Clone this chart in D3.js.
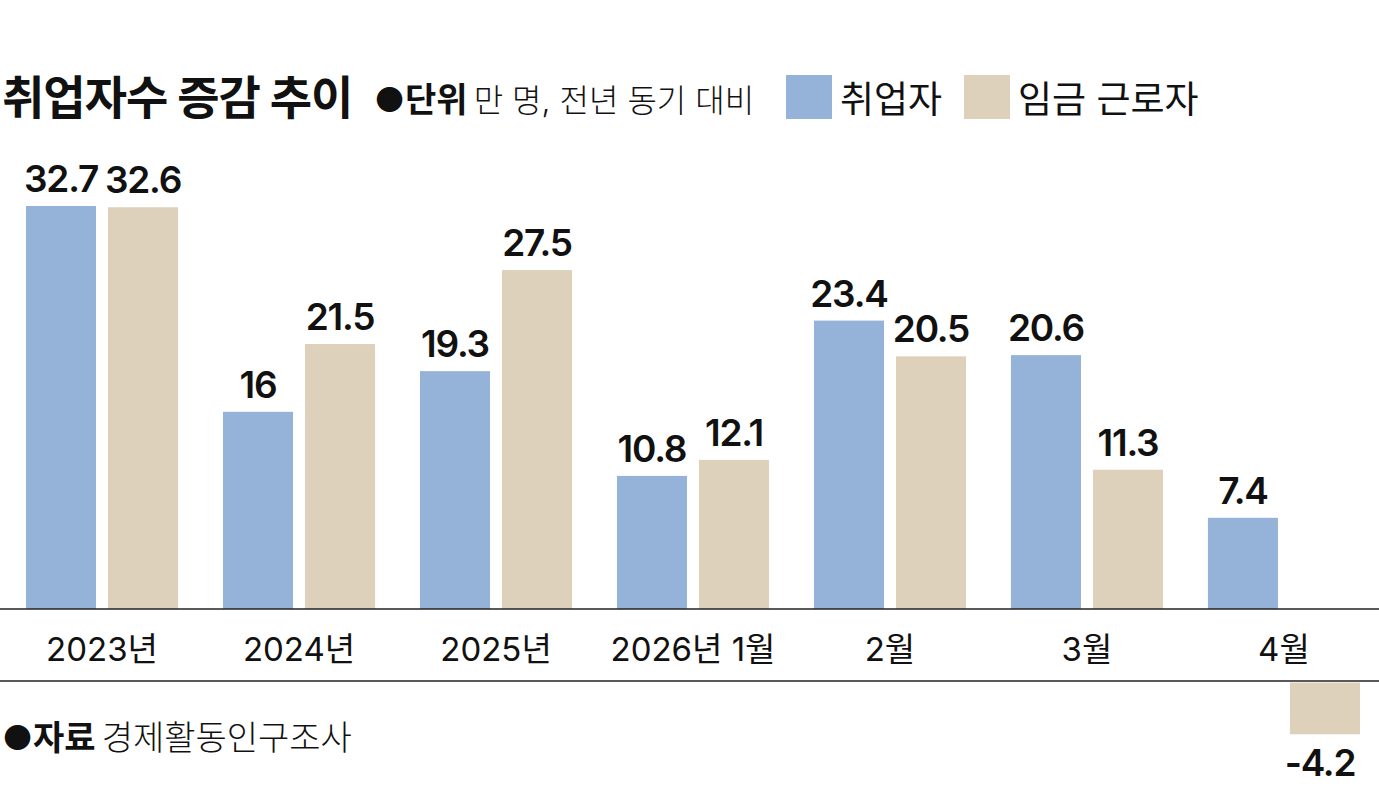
<!DOCTYPE html>
<html>
<head>
<meta charset="utf-8">
<script src="https://cdn.jsdelivr.net/npm/d3@7"></script>
<style>
  html, body { margin: 0; padding: 0; background: #fff; }
  svg { display: block; font-family: Inter, "Noto Sans CJK KR", sans-serif; }
</style>
</head>
<body>
<svg id="svg" width="1379" height="807"></svg>
<script>
// 카테고리와 값
const categories = ["2023년", "2024년", "2025년", "2026년 1월", "2월", "3월", "4월"];
const seriesNames = ["취업자", "임금 근로자"];
const employed = [32.7, 16, 19.3, 10.8, 23.4, 20.6, 7.4];
const wageWorkers = [32.6, 21.5, 27.5, 12.1, 20.5, 11.3, -4.2];
const valueLabels = [
  ["32.7", "16", "19.3", "10.8", "23.4", "20.6", "7.4"],
  ["32.6", "21.5", "27.5", "12.1", "20.5", "11.3", "-4.2"]
];
const colors = ["#95b3d9", "#ddd1bb"];

const W = 1379, H = 807;
const baseY = 609;      // 기준선
const lowerLineY = 681; // 아래 구분선

const svg = d3.select("#svg");

// 스케일
const x0 = d3.scaleBand().domain(categories).range([26, 1360]).paddingInner(0.228).paddingOuter(0);
const x1 = d3.scaleBand().domain([0, 1]).range([0, x0.bandwidth()]).paddingInner(0.146);
const y = d3.scaleLinear().domain([0, 32.7]).range([baseY, 206]);

const rows = categories.map((c, i) => ({ cat: c, vals: [employed[i], wageWorkers[i]] }));

// 막대
const groups = svg.selectAll("g.grp")
  .data(rows)
  .join("g")
  .attr("class", "grp")
  .attr("transform", d => `translate(${x0(d.cat)},0)`);

groups.selectAll("rect")
  .data(d => d.vals.map((v, k) => ({ v, k })))
  .join("rect")
  .attr("x", d => x1(d.k))
  .attr("width", x1.bandwidth())
  .attr("y", d => d.v >= 0 ? y(d.v) : lowerLineY + 1.5)
  .attr("height", d => Math.abs(y(d.v) - y(0)))
  .attr("fill", d => colors[d.k]);

// 값 라벨
groups.selectAll("text.val")
  .data((d, i) => d.vals.map((v, k) => ({ v, k, label: valueLabels[k][i] })))
  .join("text")
  .attr("class", "val")
  .attr("x", d => x1(d.k) + x1.bandwidth() / 2 - (d.v < 0 ? 5 : 0))
  .attr("y", d => d.v >= 0 ? y(d.v) - 14 : lowerLineY + 1.5 + Math.abs(y(d.v) - y(0)) + 42)
  .attr("text-anchor", "middle")
  .attr("font-size", 37)
  .attr("font-weight", 600)
  .attr("letter-spacing", -1.2)
  .attr("fill", "#111")
  .text(d => d.label);

// 기준선
svg.append("line").attr("x1", 0).attr("x2", W).attr("y1", baseY).attr("y2", baseY)
  .attr("stroke", "#222").attr("stroke-width", 1.5);
svg.append("line").attr("x1", 0).attr("x2", W).attr("y1", lowerLineY).attr("y2", lowerLineY)
  .attr("stroke", "#222").attr("stroke-width", 1.5);

// x축 라벨
svg.selectAll("text.cat")
  .data(categories)
  .join("text")
  .attr("class", "cat")
  .attr("x", d => x0(d) + x0.bandwidth() / 2)
  .attr("y", 661)
  .attr("text-anchor", "middle")
  .attr("font-size", 33)
  .attr("fill", "#111")
  .text(d => d);

// 제목
svg.append("text").attr("x", 2).attr("y", 114)
  .attr("font-size", 46).attr("font-weight", 700).attr("letter-spacing", -1)
  .attr("fill", "#111").text("취업자수 증감 추이");

// 단위
const unit = svg.append("text").attr("x", 374).attr("y", 112)
  .attr("font-size", 32).attr("fill", "#111");
unit.append("tspan").attr("font-weight", 700).attr("font-size", 34).text("●단위");
unit.append("tspan").attr("dx", 6).attr("font-weight", 300).text("만 명, 전년 동기 대비");

// 범례
const legendX = [786, 964];
seriesNames.forEach((name, k) => {
  svg.append("rect").attr("x", legendX[k]).attr("y", 75).attr("width", 46).attr("height", 44)
    .attr("fill", colors[k]);
  svg.append("text").attr("x", legendX[k] + 54).attr("y", 113)
    .attr("font-size", 37).attr("fill", "#111")
    .text(name);
});

// 자료
const src = svg.append("text").attr("x", 2).attr("y", 750)
  .attr("font-size", 34).attr("fill", "#111");
src.append("tspan").attr("font-weight", 700).text("●자료");
src.append("tspan").attr("dx", 6).attr("font-weight", 300).text("경제활동인구조사");
</script>
</body>
</html>
